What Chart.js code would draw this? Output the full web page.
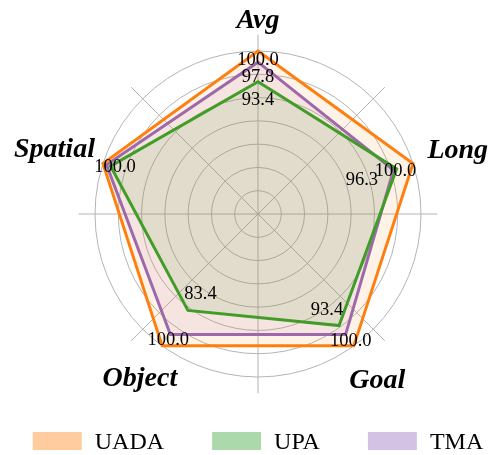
<!DOCTYPE html>
<html>
<head>
<meta charset="utf-8">
<script src="https://cdn.jsdelivr.net/npm/chart.js"></script>
<style>
  html, body { margin: 0; padding: 0; background: #fff; }
</style>
</head>
<body>
<canvas id="radar" width="493" height="455"></canvas>
<script>
// data (radial positions on a 65..100 scale)
const axes = ['Avg', 'Long', 'Goal', 'Object', 'Spatial'];
const uada = [100, 100, 100, 100, 100];
const upa = [93.4, 96.3, 94.6, 90.6, 98.3];
const tma = [97.6, 95.6, 97.0, 97.0, 99.2];
// numbers printed next to the vertices
const uadaShown = ['100.0', '100.0', '100.0', '100.0', '100.0'];
const upaShown = ['93.4', '96.3', '93.4', '83.4', ''];
const tmaShown = ['97.8', '', '', '', ''];
const rMin = 65;
const rMax = 100;
const rStep = 5;

const SERIF = '"Liberation Serif", "Times New Roman", serif';

// spokes every 45 degrees, like a matplotlib polar grid
const spokes = {
    id: 'spokes',
    beforeDatasetsDraw(chart) {
        const s = chart.scales.r;
        const len = s.getDistanceFromCenterForValue(103.5);
        const ctx = chart.ctx;
        ctx.save();
        ctx.strokeStyle = '#b4b4b4';
        ctx.lineWidth = 1;
        ctx.beginPath();
        for (let k = 0; k < 4; k++) {
            const a = k * Math.PI / 4;
            ctx.moveTo(s.xCenter - len * Math.cos(a), s.yCenter - len * Math.sin(a));
            ctx.lineTo(s.xCenter + len * Math.cos(a), s.yCenter + len * Math.sin(a));
        }
        ctx.stroke();
        ctx.restore();
    }
};

// value labels + axis names
const shown = [uadaShown, upaShown, tmaShown];
const nudges = [
    [[0, 8], [-17.5, 6], [-3, -6], [6, -7], [12, 2.5]],
    [[0, 17], [-34.7, 9.7], [-12, -17], [12.6, -17.3], [0, 0]],
    [[0, 13.5], [0, 0], [0, 0], [0, 0], [0, 0]],
];
const axisDist = [195, 210, 203, 201, 214];

const texts = {
    id: 'texts',
    afterDatasetsDraw(chart) {
        const ctx = chart.ctx;
        const s = chart.scales.r;
        ctx.save();
        ctx.fillStyle = '#000';
        ctx.textAlign = 'center';
        ctx.textBaseline = 'alphabetic';
        ctx.font = '18.5px ' + SERIF;
        shown.forEach((list, d) => {
            const meta = chart.getDatasetMeta(d);
            list.forEach((t, i) => {
                if (!t) return;
                const p = meta.data[i];
                ctx.fillText(t, p.x + nudges[d][i][0], p.y + nudges[d][i][1] + 6);
            });
        });
        ctx.font = 'italic bold 28px ' + SERIF;
        chart.data.labels.forEach((name, i) => {
            const p = s.getPointPosition(i, axisDist[i]);
            ctx.fillText(name, p.x, p.y + 9.3);
        });
        ctx.restore();
    }
};

// legend with wide gaps (built-in one would wrap)
const legendRow = {
    id: 'legendRow',
    afterDraw(chart) {
        const ctx = chart.ctx;
        const sets = chart.data.datasets;
        ctx.save();
        ctx.font = '24px ' + SERIF;
        ctx.textAlign = 'left';
        ctx.textBaseline = 'alphabetic';
        const widths = sets.map(ds => 49 + 13 + ctx.measureText(ds.label).width);
        const total = widths.reduce((a, b) => a + b, 0) + 48 * (sets.length - 1);
        let x = 258 - total / 2;
        const top = chart.height - 23;
        sets.forEach((ds, i) => {
            ctx.fillStyle = ds.legendColor;
            ctx.fillRect(x, top, 49, 18);
            ctx.fillStyle = '#000';
            ctx.fillText(ds.label, x + 62, top + 17);
            x += widths[i] + 48;
        });
        ctx.restore();
    }
};

const makeSet = (label, data, rgb) => ({
    label: label,
    data: data,
    borderColor: `rgb(${rgb})`,
    backgroundColor: `rgba(${rgb}, 0.1)`,
    legendColor: `rgba(${rgb}, 0.4)`,
    borderWidth: 3,
    borderJoinStyle: 'miter',
    pointRadius: 0,
    fill: true,
});

new Chart(document.getElementById('radar'), {
    type: 'radar',
    data: {
        labels: axes,
        datasets: [
            makeSet('UADA', uada, '255, 127, 14'),
            makeSet('UPA', upa, '44, 160, 44'),
            makeSet('TMA', tma, '148, 103, 189'),
        ],
    },
    options: {
        responsive: false,
        animation: false,
        devicePixelRatio: 1,
        layout: { padding: { left: 23, right: 0, top: 51, bottom: 78 } },
        plugins: {
            legend: { display: false },
            tooltip: { enabled: false },
        },
        scales: {
            r: {
                min: rMin,
                max: rMax,
                ticks: { stepSize: rStep, display: false },
                grid: { circular: true, color: '#b4b4b4', lineWidth: 1 },
                angleLines: { display: false },
                pointLabels: { display: false },
            },
        },
    },
    plugins: [spokes, texts, legendRow],
});
</script>
</body>
</html>
